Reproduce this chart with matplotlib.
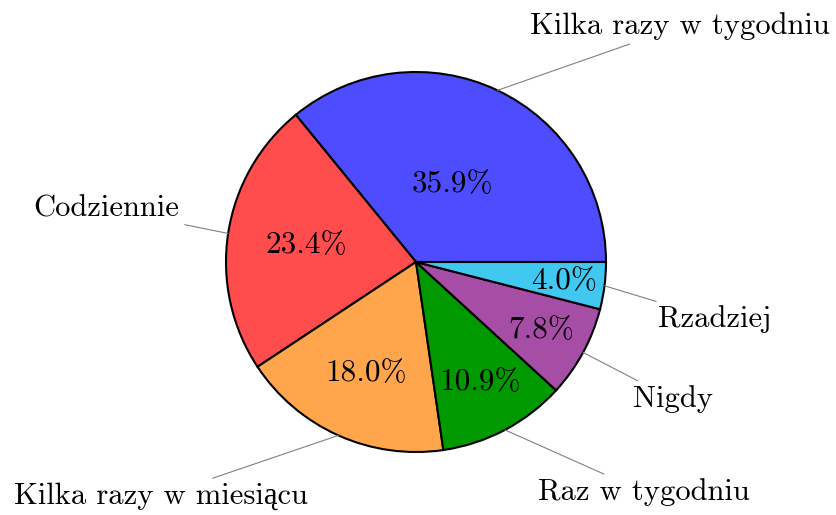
import numpy as np
import matplotlib
matplotlib.use("Agg")
import matplotlib.pyplot as plt

# ---- data ----
categories = ["Kilka razy w tygodniu", "Codziennie", "Kilka razy w miesiącu",
              "Raz w tygodniu", "Nigdy", "Rzadziej"]
shares = [35.9, 23.4, 18.0, 10.9, 7.8, 4.0]
colors = ["#4d4dff", "#ff4d4d", "#ffa64d", "#009900", "#a64da6", "#40c8f0"]

# outer label positions (pie radius = 1)
label_pos = [(1.39, 1.24), (-1.63, 0.28), (-1.34, -1.23),
             (1.20, -1.21), (1.35, -0.72), (1.57, -0.30)]

plt.rcParams["font.family"] = ["cmr10", "Liberation Serif"]
plt.rcParams["axes.formatter.use_mathtext"] = True

fig = plt.figure(figsize=(8.37, 5.15), dpi=100)
ax = fig.add_axes([0, 0, 1, 1])

wedges, _ = ax.pie(shares, colors=colors, startangle=0, counterclock=True,
                   radius=1.0,
                   wedgeprops=dict(edgecolor="black", linewidth=1.5))

for w, v, name, (tx, ty) in zip(wedges, shares, categories, label_pos):
    mid = np.deg2rad(0.5 * (w.theta1 + w.theta2))
    # percentage inside the slice
    r_in = 0.83 - 1.05 * v / 100.0
    ax.text(r_in * np.cos(mid), r_in * np.sin(mid), f"{v:.1f}%",
            ha="center", va="center", fontsize=22.5)
    # category label with leader line
    ax.annotate(name, xy=(np.cos(mid), np.sin(mid)), xytext=(tx, ty),
                ha="center", va="center", fontsize=22,
                arrowprops=dict(arrowstyle="-", color="gray", lw=0.8,
                                shrinkA=2, shrinkB=0))

# 190 px per unit, centre at (416, 262) px
ax.set_xlim(-416 / 190, (837 - 416) / 190)
ax.set_ylim(-(515 - 262) / 190, 262 / 190)
ax.set_aspect("auto")
ax.axis("off")

fig.savefig("out.png", dpi=100)
